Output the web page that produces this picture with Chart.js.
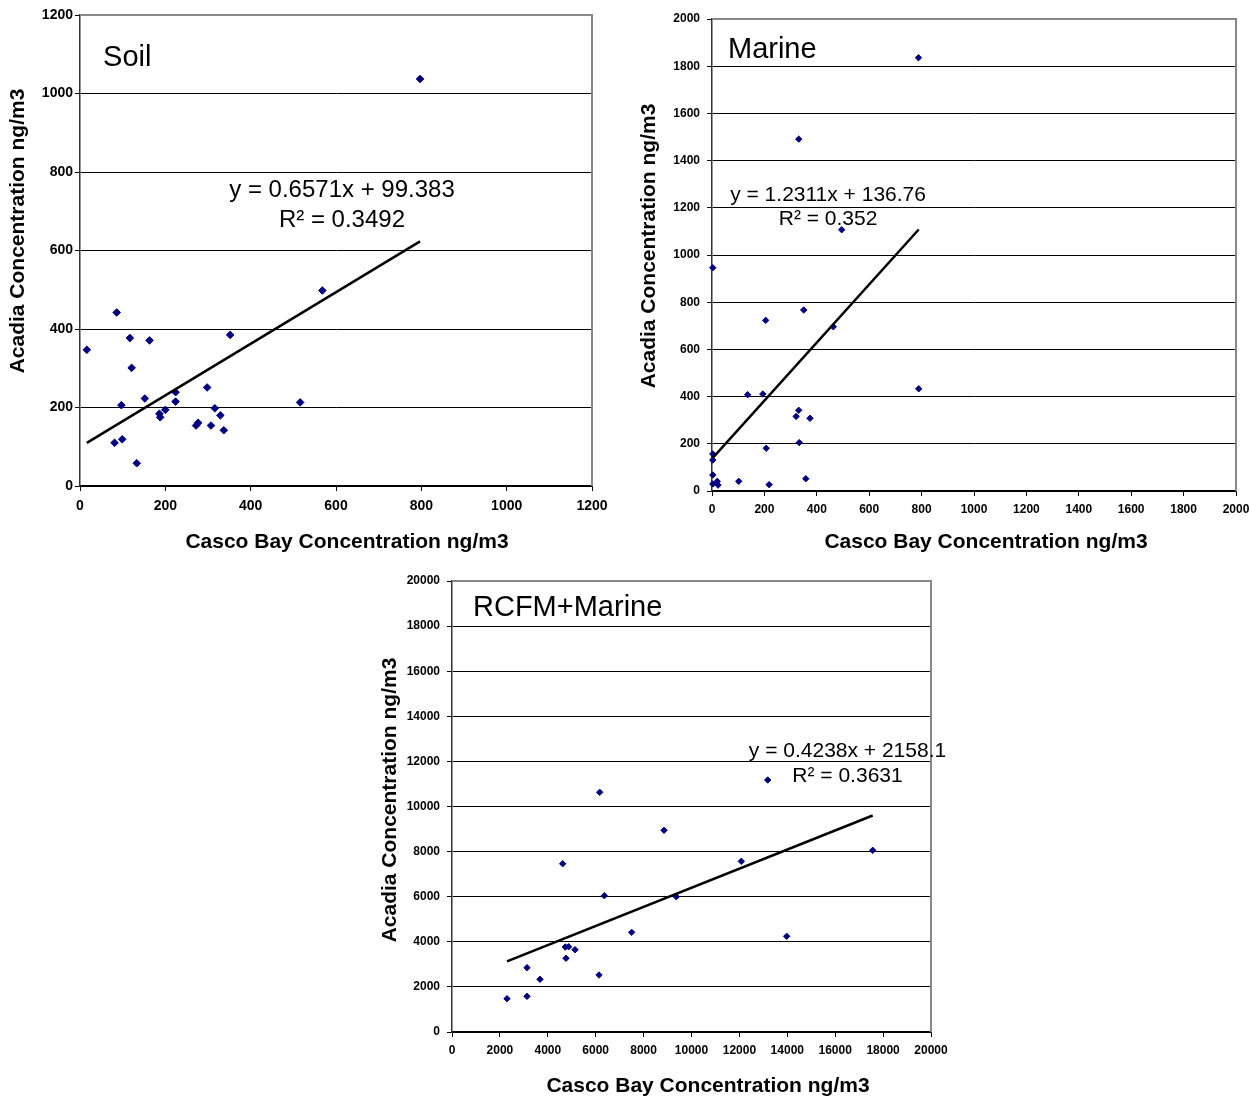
<!DOCTYPE html>
<html><head><meta charset="utf-8">
<script src="https://cdn.jsdelivr.net/npm/chart.js@4.4.1/dist/chart.umd.min.js"></script>
<style>
body{margin:0;background:#fff;width:1250px;height:1099px;position:relative;overflow:hidden}
canvas{position:absolute}
</style></head><body>
<canvas id="soil" width="625" height="560" style="left:0;top:0"></canvas>
<canvas id="marine" width="645" height="560" style="left:625px;top:0"></canvas>
<canvas id="rcfm" width="600" height="539" style="left:360px;top:560px"></canvas>
<script>
// ---- Soil panel data ----
const soilX = [797, 568, 86, 117, 163, 352, 16, 121, 152, 224, 224, 298, 97, 516, 186, 188, 200, 316, 329, 272, 277, 307, 337, 81, 99, 133];
const soilY = [1037, 498, 442, 377, 371, 385, 347, 301, 223, 239, 215, 251, 206, 213, 184, 175, 194, 198, 180, 154, 161, 154, 142, 110, 119, 58];
const soilSlope = 0.6571, soilIntercept = 99.383;
const soilEq = ["y = 0.6571x + 99.383", "R\u00b2 = 0.3492"];

// ---- Marine panel data ----
const marineX = [788, 331, 495, 3, 350, 205, 463, 789, 136, 194, 331, 321, 374, 333, 207, 3, 3, 3, 3, 20, 23, 102, 218, 358];
const marineY = [1836, 1491, 1107, 946, 767, 723, 696, 433, 408, 411, 342, 316, 308, 205, 181, 157, 131, 68, 30, 41, 25, 41, 27, 52];
const marineSlope = 1.2311, marineIntercept = 136.76;
const marineEq = ["y = 1.2311x + 136.76", "R\u00b2 = 0.352"];

// ---- RCFM+Marine panel data ----
const rcfmX = [13182, 6167, 8852, 4621, 12080, 17565, 6360, 9366, 7502, 13974, 4732, 4872, 5136, 4760, 3132, 3674, 6138, 2296, 3132];
const rcfmY = [11175, 10630, 8944, 7463, 7569, 8057, 6045, 6001, 4420, 4243, 3769, 3783, 3650, 3268, 2852, 2336, 2527, 1478, 1582];
const rcfmSlope = 0.4238, rcfmIntercept = 2158.1;
const rcfmEq = ["y = 0.4238x + 2158.1", "R\u00b2 = 0.3631"];

// ---- axis ranges / labels ----
const soilAxis = {max: 1200, step: 200};
const marineAxis = {max: 2000, step: 200};
const rcfmAxis = {max: 20000, step: 2000};
const xTitle = "Casco Bay Concentration ng/m3";
const yTitle = "Acadia Concentration ng/m3";

const FAM = '"Liberation Sans", Arial, sans-serif';
Chart.defaults.font.family = FAM;
Chart.defaults.color = '#000';

const frameAndText = {
  id: 'frameAndText',
  afterDatasetsDraw(chart, args, o) {
    const {ctx, chartArea: a, scales: {x, y}} = chart;
    ctx.save();
    ctx.strokeStyle = '#888';
    ctx.lineWidth = 2;
    ctx.beginPath();
    ctx.moveTo(a.left, a.top);
    ctx.lineTo(a.right, a.top);
    ctx.lineTo(a.right, a.bottom);
    ctx.stroke();
    ctx.fillStyle = '#000';
    // panel title
    ctx.font = o.titleSize + 'px ' + FAM;
    ctx.textAlign = 'left';
    ctx.textBaseline = 'middle';
    ctx.fillText(o.title, x.getPixelForValue(o.titleAt[0]), y.getPixelForValue(o.titleAt[1]));
    // trendline equation
    ctx.font = o.eqSize + 'px ' + FAM;
    ctx.textAlign = 'center';
    o.eq.forEach((t, i) => ctx.fillText(t, x.getPixelForValue(o.eqAt[0]), y.getPixelForValue(o.eqAt[1][i])));
    // axis titles
    ctx.font = 'bold 21px ' + FAM;
    ctx.fillText(xTitle, o.xTitleAt[0], o.xTitleAt[1]);
    ctx.translate(o.yTitleAt[0], o.yTitleAt[1]);
    ctx.rotate(-Math.PI / 2);
    ctx.fillText(yTitle, 0, 0);
    ctx.restore();
  }
};

function panel(id, xs, ys, slope, intercept, axis, L) {
  const pts = xs.map((v, i) => ({x: v, y: ys[i]}));
  const x0 = Math.min(...xs), x1 = Math.max(...xs);
  const trend = [{x: x0, y: slope * x0 + intercept}, {x: x1, y: slope * x1 + intercept}];
  const tickFont = {size: L.tickSize, weight: 'bold'};
  const fmt = v => String(v);
  new Chart(document.getElementById(id), {
    type: 'scatter',
    data: {datasets: [
      {data: trend, showLine: true, pointRadius: 0, borderColor: '#000', borderWidth: 2.5, clip: false},
      {data: pts, pointStyle: 'rectRot', pointRadius: L.r, backgroundColor: '#000080', borderColor: '#000080', borderWidth: 1, clip: false}
    ]},
    options: {
      responsive: false, animation: false, devicePixelRatio: 1,
      layout: {padding: {top: L.top, right: L.right, left: 0, bottom: 0}},
      plugins: {legend: {display: false}, tooltip: {enabled: false},
        frameAndText: {title: L.title, titleAt: L.titleAt, titleSize: 29, eq: L.eq, eqAt: L.eqAt, eqSize: L.eqSize,
          xTitleAt: L.xTitleAt, yTitleAt: L.yTitleAt}},
      scales: {
        x: {type: 'linear', min: 0, max: axis.max,
          ticks: {stepSize: axis.step, font: tickFont, padding: L.xPad, maxRotation: 0, autoSkip: false, color: '#000', callback: fmt},
          grid: {drawOnChartArea: false, tickLength: 5, tickColor: '#000'},
          border: {color: '#000', width: 1.5},
          afterFit(s) { s.height = L.xH; }
        },
        y: {type: 'linear', min: 0, max: axis.max,
          ticks: {stepSize: axis.step, font: tickFont, padding: L.yPad, autoSkip: false, color: '#000', callback: fmt},
          grid: {color: c => c.tick && c.tick.value === axis.max ? 'rgba(0,0,0,0)' : '#000', lineWidth: 1, tickLength: 5, tickColor: '#000'},
          border: {color: '#333', width: 1.5},
          afterFit(s) { s.width = L.yW; }
        }
      }
    },
    plugins: [frameAndText]
  });
}

panel('soil', soilX, soilY, soilSlope, soilIntercept, soilAxis, {
  top: 15, right: 33, yW: 80, xH: 74, r: 3.8, tickSize: 14, xPad: 7, yPad: 2,
  xTitleAt: [347, 542], yTitleAt: [18, 231], title: 'Soil', titleAt: [54, 1090],
  eq: soilEq, eqSize: 24, eqAt: [614, [754, 678]]
});
panel('marine', marineX, marineY, marineSlope, marineIntercept, marineAxis, {
  top: 19, right: 34, yW: 87, xH: 69, r: 3.2, tickSize: 12, xPad: 6, yPad: 7,
  xTitleAt: [361, 542], yTitleAt: [24, 246], title: 'Marine', titleAt: [61, 1869],
  eq: marineEq, eqSize: 21, eqAt: [443, [1254, 1153]]
});
panel('rcfm', rcfmX, rcfmY, rcfmSlope, rcfmIntercept, rcfmAxis, {
  top: 21, right: 29, yW: 92, xH: 67, r: 3.2, tickSize: 12, xPad: 6, yPad: 7,
  xTitleAt: [348, 526], yTitleAt: [30, 240], title: 'RCFM+Marine', titleAt: [877, 18803],
  eq: rcfmEq, eqSize: 21, eqAt: [16514, [12461, 11353]]
});
</script>
</body></html>
